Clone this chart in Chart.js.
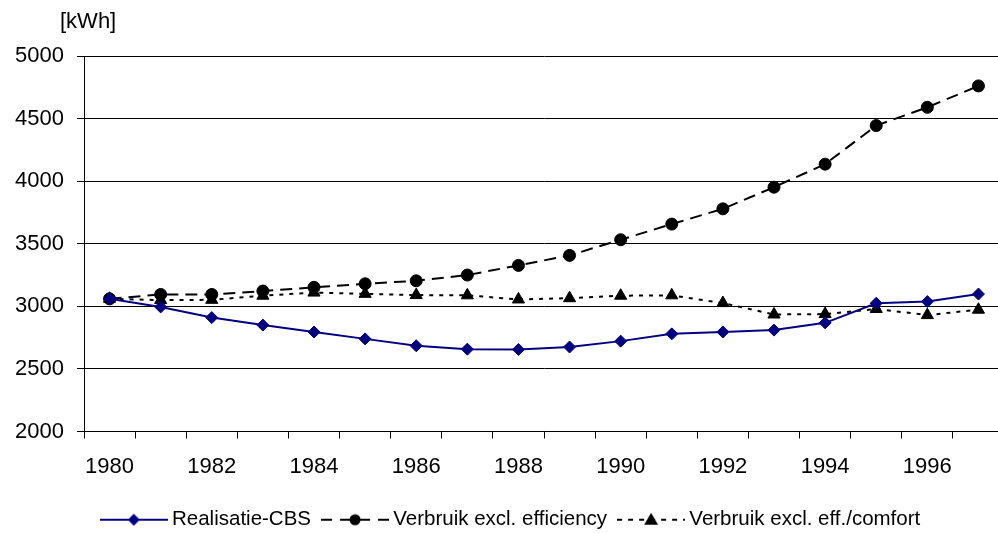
<!DOCTYPE html>
<html>
<head>
<meta charset="utf-8">
<script src="https://cdn.jsdelivr.net/npm/chart.js@4/dist/chart.umd.min.js"></script>
<style>
  html, body { margin: 0; padding: 0; background: #fff; overflow: hidden; width: 998px; height: 533px; }
  canvas { display: block; }
</style>
</head>
<body>
<canvas id="c" width="1014" height="540"></canvas>
<script>
// Household electricity use per year
const years = ['1980','1981','1982','1983','1984','1985','1986','1987','1988',
               '1989','1990','1991','1992','1993','1994','1995','1996','1997'];
const realisatieCBS  = [3060, 2995, 2910, 2850, 2795, 2740, 2685, 2658, 2655,
                        2675, 2722, 2780, 2795, 2810, 2868, 3025, 3038, 3098];
const exclEfficiency = [3060, 3095, 3095, 3122, 3152, 3180, 3204, 3250, 3327,
                        3407, 3532, 3657, 3779, 3952, 4136, 4444, 4590, 4761];
const exclEffComfort = [3060, 3050, 3052, 3085, 3110, 3100, 3090, 3088, 3055,
                        3065, 3085, 3088, 3026, 2935, 2938, 2979, 2930, 2973];
const seriesNames = ['Realisatie-CBS', 'Verbruik excl. efficiency', 'Verbruik excl. eff./comfort'];
const yRange = [2000, 5000];
const yStep = 500;
const unitLabel = '[kWh]';

const FONT = "'Liberation Sans', Arial, sans-serif";
Chart.defaults.font.family = FONT;
Chart.defaults.color = '#000';

const NAVY = '#000080';

// Small line-with-marker swatch used as a legend symbol
function makeSwatch(color, dash, marker) {
  const w = 68, h = 20;
  const cv = document.createElement('canvas');
  cv.width = w; cv.height = h;
  const g = cv.getContext('2d');
  g.strokeStyle = color;
  g.fillStyle = color;
  g.lineWidth = 2;
  g.setLineDash(dash);
  g.beginPath();
  g.moveTo(0, h / 2);
  g.lineTo(w, h / 2);
  g.stroke();
  g.setLineDash([]);
  const cx = w / 2, cy = h / 2;
  g.beginPath();
  if (marker === 'diamond') {
    const r = 6;
    g.moveTo(cx, cy - r); g.lineTo(cx + r, cy); g.lineTo(cx, cy + r); g.lineTo(cx - r, cy);
  } else if (marker === 'circle') {
    g.arc(cx, cy, 5.5, 0, Math.PI * 2);
  } else {
    const r = 8;
    const cy2 = cy + 1;
    g.moveTo(cx, cy2 - r);
    g.lineTo(cx + r * Math.sin(2 * Math.PI / 3), cy2 - r * Math.cos(2 * Math.PI / 3));
    g.lineTo(cx + r * Math.sin(4 * Math.PI / 3), cy2 - r * Math.cos(4 * Math.PI / 3));
  }
  g.closePath();
  g.fill();
  return cv;
}

const swatches = [
  makeSwatch(NAVY, [], 'diamond'),
  makeSwatch('#000', [11, 8], 'circle'),
  makeSwatch('#000', [5, 6], 'triangle')
];

// "[kWh]" unit caption above the value axis; legend row nudged to its own centre line
const unitLabelPlugin = {
  id: 'unitLabel',
  afterLayout(chart) {
    const lg = chart.legend;
    if (lg) {
      lg.left = 22;
      lg.width = lg.right - lg.left;
    }
  },
  afterDraw(chart) {
    const { ctx, chartArea } = chart;
    ctx.save();
    ctx.font = '22px ' + FONT;
    ctx.fillStyle = '#000';
    ctx.textAlign = 'left';
    ctx.textBaseline = 'alphabetic';
    ctx.fillText(unitLabel, chartArea.left - 24, 28);
    ctx.restore();
  }
};

new Chart(document.getElementById('c'), {
  type: 'line',
  data: {
    labels: years,
    datasets: [
      {
        label: seriesNames[0],
        data: realisatieCBS,
        borderColor: NAVY,
        backgroundColor: NAVY,
        borderWidth: 2,
        pointStyle: 'rectRot',
        pointRadius: 6,
        pointBorderWidth: 1,
        tension: 0
      },
      {
        label: seriesNames[1],
        data: exclEfficiency,
        borderColor: '#000',
        backgroundColor: '#000',
        borderWidth: 2,
        borderDash: [12, 7],
        pointStyle: 'circle',
        pointRadius: 6,
        pointBorderWidth: 1,
        tension: 0
      },
      {
        label: seriesNames[2],
        data: exclEffComfort,
        borderColor: '#000',
        backgroundColor: '#000',
        borderWidth: 2,
        borderDash: [4, 6],
        pointStyle: 'triangle',
        pointRadius: 7,
        pointBorderWidth: 1,
        tension: 0
      }
    ]
  },
  options: {
    responsive: false,
    animation: false,
    devicePixelRatio: 1,
    layout: { padding: { left: 0, right: 10, top: 56, bottom: 0 } },
    plugins: {
      tooltip: { enabled: false },
      legend: {
        position: 'bottom',
        labels: {
          usePointStyle: true,
          pointStyleWidth: 56,
          boxHeight: 20,
          padding: 16,
          color: '#000',
          font: { size: 20.5 },
          generateLabels: (chart) => chart.data.datasets.map((ds, i) => ({
            text: ds.label,
            pointStyle: swatches[i],
            fillStyle: ds.borderColor,
            strokeStyle: ds.borderColor,
            lineWidth: 0,
            fontColor: '#000',
            hidden: false,
            datasetIndex: i
          }))
        }
      }
    },
    scales: {
      x: {
        type: 'category',
        offset: true,
        grid: {
          offset: true,
          drawOnChartArea: false,
          drawTicks: true,
          tickLength: 7,
          color: '#000',
          lineWidth: 1
        },
        border: { display: true, color: '#000', width: 1 },
        ticks: {
          autoSkip: false,
          maxRotation: 0,
          minRotation: 0,
          padding: 15,
          color: '#000',
          font: { size: 22 },
          callback: (value, index) => (index % 2 === 0 ? years[index] : '')
        },
        afterFit: (scale) => { scale.height = 62; }
      },
      y: {
        min: yRange[0],
        max: yRange[1],
        grid: {
          color: '#000',
          lineWidth: 1,
          drawTicks: true,
          tickLength: 7
        },
        border: { display: true, color: '#000', width: 1 },
        ticks: {
          stepSize: yStep,
          padding: 13,
          color: '#000',
          font: { size: 22 },
          callback: (value) => String(value)
        },
        afterFit: (scale) => { scale.width = 84; }
      }
    }
  },
  plugins: [unitLabelPlugin]
});
</script>
</body>
</html>
